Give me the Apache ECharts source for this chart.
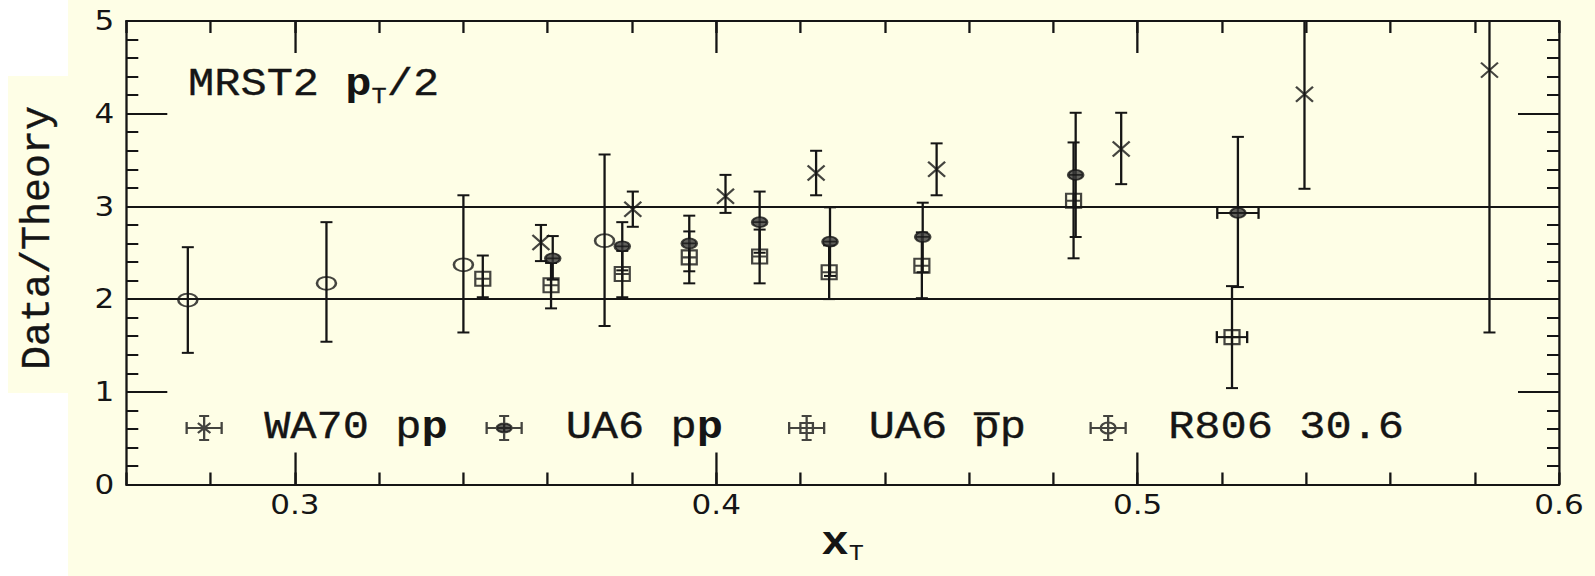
<!DOCTYPE html>
<html>
<head>
<meta charset="utf-8">
<title>Data/Theory vs xT — MRST2 pT/2</title>
<script src="https://cdn.jsdelivr.net/npm/echarts@6.0.0/dist/echarts.min.js"></script>
<style>
  html, body { margin: 0; padding: 0; background: #ffffff; }
  #page { position: relative; width: 1595px; height: 576px; overflow: hidden; background: #ffffff; }
  .paper { position: absolute; background: #fefee6; }
  /* the plot is laid out on a narrower surface and widened horizontally */
  #chart { position: absolute; left: 0; top: 0; height: 576px; transform-origin: 0 0; }
</style>
</head>
<body>
<div id="page">
  <div class="paper" style="left:68px;top:0;width:1527px;height:576px"></div>
  <div class="paper" style="left:8px;top:76px;width:60px;height:317px"></div>
  <div id="chart"></div>
</div>
<script>
// ---- axis ranges and ticks ----
const xRange = [0.26, 0.6];
const yRange = [0, 5];
const xMajorTicks = [0.3, 0.4, 0.5, 0.6];
const xMinorStep = 0.02;
const referenceLevels = [2, 3];

// ---- WA70 pp ----
const wa70X  = [0.3584, 0.3802, 0.4022, 0.4237, 0.4523, 0.4961, 0.5396, 0.5835];
const wa70Y  = [2.61, 2.97, 3.11, 3.36, 3.40, 3.62, 4.21, 4.47];
const wa70Lo = [2.41, 2.78, 2.93, 3.12, 3.12, 3.24, 3.19, 1.64];
const wa70Hi = [2.80, 3.16, 3.34, 3.60, 3.68, 4.01, 5.00, 5.40];

// ---- UA6 pp ----
const ua6ppX    = [0.3612, 0.3777, 0.3936, 0.4103, 0.4270, 0.4490, 0.4853, 0.5238];
const ua6ppY    = [2.44, 2.57, 2.60, 2.83, 2.62, 2.67, 3.34, 2.93];
const ua6ppLo   = [2.21, 2.31, 2.30, 2.50, 2.25, 2.29, 2.67, 2.13];
const ua6ppHi   = [2.68, 2.83, 2.90, 3.16, 2.99, 3.04, 4.01, 3.75];
const ua6ppXErr = [0, 0, 0, 0, 0, 0, 0, 0.0049];

// ---- UA6 pbar p ----
const ua6pbX    = [0.3446, 0.3608, 0.3777, 0.3936, 0.4103, 0.4268, 0.4488, 0.4848, 0.5224];
const ua6pbY    = [2.22, 2.15, 2.27, 2.45, 2.46, 2.29, 2.36, 3.06, 1.59];
const ua6pbLo   = [2.02, 1.90, 2.02, 2.17, 2.17, 2.00, 2.01, 2.44, 1.04];
const ua6pbHi   = [2.47, 2.39, 2.52, 2.73, 2.75, 2.58, 2.72, 3.69, 2.14];
const ua6pbXErr = [0, 0, 0, 0, 0, 0, 0, 0, 0.0036];

// ---- R806 30.6 ----
const r806X  = [0.2746, 0.3075, 0.3400, 0.3735];
const r806Y  = [1.99, 2.17, 2.37, 2.63];
const r806Lo = [1.42, 1.54, 1.64, 1.71];
const r806Hi = [2.56, 2.83, 3.12, 3.56];

// ---- drawing surface ----
const PAGE_W = 1595, PAGE_H = 576;
const STRETCH = 1.15;                       // horizontal widening of the surface
const SURF_W = PAGE_W / STRETCH;
const hx = v => v / STRETCH;                // horizontal page pixels -> surface pixels

const chartEl = document.getElementById('chart');
chartEl.style.width = SURF_W + 'px';
chartEl.style.transform = 'scaleX(' + STRETCH + ')';

const INK = '#151515';
const MONO = '"Liberation Mono", "DejaVu Sans Mono", monospace';
const SANS = '"DejaVu Sans", "Liberation Sans", sans-serif';
const TEXT_EDGE = 0.35;  // light outline that gives the typewriter face some weight
const CAP = hx(6);       // half width of vertical error bar caps
const XCAP = 6;          // half height of horizontal error bar caps

const SYM = {
  cross:      'path://M0,0L10,10M10,0L0,10',
  ellipseBar: 'path://M0,5A5,5,0,1,1,10,5A5,5,0,1,1,0,5ZM0,5L10,5',
  boxed:      'path://M0,0L10,0L10,10L0,10ZM0,5L10,5M5,0L5,10',
  ring:       'path://M0,5A5,5,0,1,1,10,5A5,5,0,1,1,0,5Z'
};
const BARS = 'M0,6L0,18M0,12L28,12M28,6L28,18M10,0L18,0M14,0L14,24M10,24L18,24';
const LEGEND_ICON = {
  wa70:  'path://' + BARS + 'M9,7L19,17M19,7L9,17',
  ua6pp: 'path://' + BARS + 'M8,12A6,4.5,0,1,1,20,12A6,4.5,0,1,1,8,12Z',
  ua6pb: 'path://' + BARS + 'M9,7L19,7L19,17L9,17Z',
  r806:  'path://' + BARS + 'M8,12A6,5.5,0,1,1,20,12A6,5.5,0,1,1,8,12Z'
};

function rows(xs, ys, lo, hi, xe) {
  return xs.map((x, i) => [x, ys[i], lo[i], hi[i], xe ? xe[i] : 0]);
}

function renderErrorBar(params, api) {
  const x = api.value(0), y = api.value(1), lo = api.value(2), hi = api.value(3), xe = api.value(4);
  const top = Math.min(hi, yRange[1]);
  const c = api.coord([x, y]);
  const yLo = api.coord([x, lo])[1];
  const yHi = api.coord([x, top])[1];
  const seg = (x1, y1, x2, y2) => ({
    type: 'line', shape: { x1, y1, x2, y2 },
    style: { stroke: INK, lineWidth: 2, fill: null }
  });
  const parts = [seg(c[0], yLo, c[0], yHi), seg(c[0] - CAP, yLo, c[0] + CAP, yLo)];
  if (hi <= yRange[1]) parts.push(seg(c[0] - CAP, yHi, c[0] + CAP, yHi));
  if (xe > 0) {
    const xl = api.coord([x - xe, y])[0];
    const xr = api.coord([x + xe, y])[0];
    parts.push(seg(xl, c[1], xr, c[1]), seg(xl, c[1] - XCAP, xl, c[1] + XCAP), seg(xr, c[1] - XCAP, xr, c[1] + XCAP));
  }
  return { type: 'group', children: parts };
}

const groups = [
  { name: 'WA70 pp',      data: rows(wa70X, wa70Y, wa70Lo, wa70Hi),                 symbol: SYM.cross,      size: [hx(17), 15], icon: LEGEND_ICON.wa70,  fill: 'transparent', border: 2 },
  { name: 'UA6 pp',       data: rows(ua6ppX, ua6ppY, ua6ppLo, ua6ppHi, ua6ppXErr), symbol: SYM.ellipseBar, size: [hx(15), 10], icon: LEGEND_ICON.ua6pp, fill: '#3a3a3a',     border: 2 },
  { name: 'UA6 p\u0305p', data: rows(ua6pbX, ua6pbY, ua6pbLo, ua6pbHi, ua6pbXErr), symbol: SYM.boxed,      size: [hx(15), 14], icon: LEGEND_ICON.ua6pb, fill: 'transparent', border: 2 },
  { name: 'R806 30.6',    data: rows(r806X, r806Y, r806Lo, r806Hi),                 symbol: SYM.ring,       size: [hx(19), 13], icon: LEGEND_ICON.r806,  fill: 'transparent', border: 2 }
];
// legend placement in page pixels: icon centre and text start
const legendIconCenter = [203, 503, 805.5, 1107];
const legendTextStart  = [263, 564.5, 867.5, 1167];
const LEGEND_ICON_W = hx(35);

const series = [];
groups.forEach(g => {
  series.push({
    type: 'custom', name: g.name + ' errors', renderItem: renderErrorBar,
    xAxisIndex: 0, yAxisIndex: 0,
    data: g.data, encode: { x: 0, y: 1 }, z: 2, silent: true
  });
});
groups.forEach((g, i) => {
  const s = {
    type: 'scatter', name: g.name, xAxisIndex: 0, yAxisIndex: 0,
    data: g.data.map(r => [r[0], r[1]]),
    symbol: g.symbol, symbolSize: g.size,
    itemStyle: { color: g.fill, borderColor: INK, borderWidth: g.border },
    z: 3, silent: true
  };
  if (i === 0) {
    s.markLine = {
      silent: true, symbol: 'none', label: { show: false },
      lineStyle: { color: INK, width: 2, type: 'solid' },
      data: referenceLevels.map(v => ({ yAxis: v }))
    };
  }
  series.push(s);
});

function legendFormatter(name) {
  if (/ pp$/.test(name)) return '{n|' + name.slice(0, -1) + '}{b|p}';
  return '{n|' + name + '}';
}
const legendRich = {
  n: { fontFamily: MONO, fontSize: 38, lineHeight: 40, color: INK, textBorderColor: INK, textBorderWidth: TEXT_EDGE },
  b: { fontFamily: MONO, fontSize: 38, lineHeight: 40, color: INK, fontWeight: 'bold' }
};

const lineStyle = { color: INK, width: 2 };
const tickFont = { fontFamily: SANS, fontSize: 27, color: INK };
const plotBox = { left: hx(126.3), right: hx(36), top: 21, bottom: 91.5 };
const baseX = { type: 'value', min: xRange[0], max: xRange[1], splitLine: { show: false } };
const minorX = { axisLine: { show: true, onZero: false, lineStyle },
                 axisTick: { show: true, inside: true, length: 12, lineStyle }, interval: xMinorStep };
const majorX = { axisLine: { show: false },
                 axisTick: { show: true, inside: true, length: 32, customValues: xMajorTicks.slice(0, 3), lineStyle },
                 axisLabel: { show: false } };
const frameY = {
  type: 'value', min: yRange[0], max: yRange[1], interval: 1, gridIndex: 0,
  axisLine: { show: true, onZero: false, lineStyle },
  axisTick: { show: true, inside: true, length: hx(41), lineStyle },
  minorTick: { show: true, splitNumber: 5, length: hx(12), lineStyle },
  splitLine: { show: false }, minorSplitLine: { show: false }
};

const option = {
  animation: false,
  backgroundColor: 'transparent',
  grid: [Object.assign({}, plotBox), Object.assign({}, plotBox)],
  xAxis: [
    Object.assign({}, baseX, minorX, {
      gridIndex: 0, position: 'bottom',
      axisLabel: Object.assign({ show: true, customValues: xMajorTicks, formatter: v => v.toFixed(1), margin: 7 }, tickFont),
      name: '{x|x}{t|T}', nameLocation: 'middle', nameGap: 12,
      nameTextStyle: { rich: {
        x: { fontFamily: MONO, fontSize: 40, fontWeight: 'bold', lineHeight: 44, verticalAlign: 'middle', color: INK },
        t: { fontFamily: MONO, fontSize: 22, lineHeight: 22, verticalAlign: 'bottom', color: INK }
      } }
    }),
    Object.assign({}, baseX, minorX, { gridIndex: 0, position: 'top', axisLabel: { show: false } }),
    Object.assign({}, baseX, majorX, { gridIndex: 1, position: 'bottom' }),
    Object.assign({}, baseX, majorX, { gridIndex: 1, position: 'top' })
  ],
  yAxis: [
    Object.assign({}, frameY, {
      position: 'left',
      axisLabel: Object.assign({ show: true, margin: hx(12) }, tickFont)
    }),
    Object.assign({}, frameY, { position: 'right', axisLabel: { show: false } }),
    { type: 'value', gridIndex: 1, min: yRange[0], max: yRange[1], show: false }
  ],
  legend: groups.map((g, i) => {
    const left = hx(legendIconCenter[i] - 17.5);
    const pad = hx(legendTextStart[i]) - left - LEGEND_ICON_W - 5;
    return {
      show: true, selectedMode: false, orient: 'horizontal',
      left: left, top: 408, padding: 0,
      itemWidth: LEGEND_ICON_W, itemHeight: 24, symbolKeepAspect: false,
      data: [{ name: g.name, icon: g.icon }],
      itemStyle: { color: g.fill, borderColor: INK, borderWidth: 2 },
      formatter: legendFormatter,
      textStyle: { color: INK, fontFamily: MONO, fontSize: 38, lineHeight: 40,
                   padding: [0, 0, 0, pad], rich: legendRich }
    };
  }),
  graphic: [
    {
      type: 'text', x: hx(188), y: 85, silent: true,
      style: {
        text: '{n|MRST2 }{b|p}{s|T}{n|/2}',
        align: 'left', verticalAlign: 'middle',
        rich: {
          n: { fontFamily: MONO, fontSize: 38, lineHeight: 46, verticalAlign: 'middle', fill: INK, stroke: INK, lineWidth: TEXT_EDGE },
          b: { fontFamily: MONO, fontSize: 38, lineHeight: 46, verticalAlign: 'middle', fontWeight: 'bold', fill: INK },
          s: { fontFamily: MONO, fontSize: 22, lineHeight: 22, verticalAlign: 'bottom', fill: INK, stroke: INK, lineWidth: 0.3 }
        }
      }
    },
    {
      type: 'text', x: hx(38), y: 238, rotation: Math.PI / 2, scaleY: 1 / STRETCH, silent: true,
      style: { text: 'Data/Theory', fontFamily: MONO, fontSize: 40, fill: INK, stroke: INK, lineWidth: TEXT_EDGE,
               align: 'center', verticalAlign: 'middle' }
    }
  ],
  series
};

const chart = echarts.init(chartEl, null, { renderer: 'svg', width: SURF_W, height: PAGE_H });
chart.setOption(option);
</script>
</body>
</html>
